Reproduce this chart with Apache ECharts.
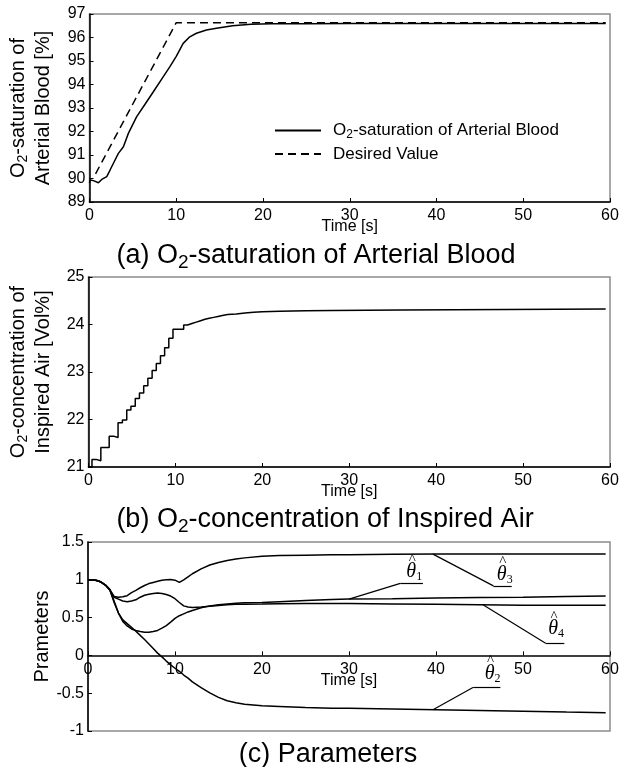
<!DOCTYPE html>
<html>
<head>
<meta charset="utf-8">
<script src="https://cdn.jsdelivr.net/npm/echarts@6/dist/echarts.min.js"></script>
<style>
  html, body { margin: 0; padding: 0; background: #fff; }
  #main { width: 623px; height: 767px; }
</style>
</head>
<body>
<div id="main"></div>
<script>
// (a) O2-saturation of arterial blood [%]
var satTime = [0, 0.07, 0.45, 1.03, 1.41, 1.99, 2.37, 2.76, 3.33, 3.91, 4.48, 5.44, 6.4, 7.36, 8.3, 9.27, 10.0, 10.8, 11.56, 12.33, 13.48, 14.63, 16.5, 18.6, 21, 25, 30, 40, 50, 59.5];
var satValue = [89.8, 89.94, 89.91, 89.82, 89.96, 90.08, 90.36, 90.65, 91.07, 91.35, 91.92, 92.63, 93.16, 93.69, 94.22, 94.76, 95.2, 95.75, 96.03, 96.18, 96.32, 96.39, 96.5, 96.56, 96.58, 96.59, 96.6, 96.6, 96.6, 96.6];
var desiredTime = [0.7, 10, 59.5];
var desiredValue = [90.2, 96.63, 96.63];

// (b) O2-concentration of inspired air [Vol%]
var fio2Time = [0, 0.4, 0.87, 1.42, 2.38, 2.87, 3.4, 3.9, 4.4, 4.88, 5.38, 5.86, 6.35, 6.83, 7.32, 7.8, 8.28, 8.76, 9.24, 9.72, 10.95, 11.4, 11.9, 12.4, 12.9, 13.4, 13.9, 14.4, 14.9, 15.4, 16, 17, 18, 19, 20, 22, 25, 28, 32, 36, 42, 48, 54, 59.5];
var fio2Value = [21.0, 21.16, 21.13, 21.41, 21.65, 21.62, 21.93, 21.99, 22.20, 22.28, 22.44, 22.56, 22.71, 22.87, 23.03, 23.18, 23.34, 23.51, 23.71, 23.90, 23.99, 24.02, 24.05, 24.08, 24.11, 24.13, 24.15, 24.17, 24.19, 24.21, 24.22, 24.24, 24.26, 24.27, 24.28, 24.29, 24.295, 24.30, 24.305, 24.31, 24.315, 24.32, 24.325, 24.33];

// (c) parameter estimates
var parTime = [0, 0.5, 1, 1.5, 2, 2.5, 3, 3.5, 4, 4.5, 5, 5.5, 6, 6.5, 7, 7.5, 8, 8.5, 9, 9.5, 10, 10.5, 11, 11.5, 12, 13, 14, 15, 16, 17, 18, 20, 22, 25, 28, 30, 35, 40, 45, 50, 55, 59.5];
var theta1 = [1.0, 1.0, 0.99, 0.97, 0.93, 0.87, 0.72, 0.56, 0.45, 0.39, 0.35, 0.33, 0.315, 0.305, 0.305, 0.315, 0.33, 0.36, 0.395, 0.44, 0.49, 0.525, 0.55, 0.575, 0.595, 0.63, 0.655, 0.67, 0.68, 0.69, 0.695, 0.70, 0.71, 0.725, 0.74, 0.745, 0.75, 0.76, 0.765, 0.77, 0.78, 0.785];
var theta2 = [1.0, 1.0, 0.99, 0.97, 0.93, 0.87, 0.70, 0.56, 0.47, 0.42, 0.37, 0.32, 0.265, 0.21, 0.15, 0.09, 0.03, -0.02, -0.075, -0.125, -0.17, -0.21, -0.26, -0.30, -0.35, -0.425, -0.495, -0.555, -0.60, -0.625, -0.645, -0.665, -0.675, -0.69, -0.70, -0.70, -0.71, -0.72, -0.73, -0.74, -0.75, -0.757];
var theta3 = [1.0, 1.0, 0.99, 0.97, 0.93, 0.87, 0.78, 0.77, 0.775, 0.79, 0.83, 0.86, 0.895, 0.925, 0.95, 0.965, 0.98, 0.995, 1.0, 1.005, 0.995, 0.965, 1.0, 1.04, 1.08, 1.145, 1.195, 1.23, 1.255, 1.275, 1.29, 1.31, 1.32, 1.325, 1.33, 1.333, 1.337, 1.34, 1.34, 1.34, 1.34, 1.34];
var theta4 = [1.0, 1.0, 0.99, 0.97, 0.93, 0.87, 0.77, 0.745, 0.72, 0.71, 0.72, 0.735, 0.77, 0.795, 0.81, 0.82, 0.825, 0.82, 0.805, 0.785, 0.75, 0.70, 0.655, 0.64, 0.635, 0.64, 0.65, 0.66, 0.67, 0.675, 0.678, 0.68, 0.683, 0.685, 0.685, 0.685, 0.68, 0.675, 0.67, 0.665, 0.664, 0.663];

// axis ranges [min, max, interval]
var timeAxis = [0, 60, 10];
var satAxis = [89, 97, 1];
var fio2Axis = [21, 25, 1];
var parAxis = [-1, 1.5, 0.5];

var FONT = 'Liberation Sans';
var SERIF = 'Liberation Serif';

function pairs(xs, ys) {
  return xs.map(function (x, i) { return [x, ys[i]]; });
}

var subRich = {
  n: { fontFamily: FONT, fontSize: 20, lineHeight: 25, fontWeight: 'normal', color: '#000' },
  s: { fontFamily: FONT, fontSize: 14, lineHeight: 14, fontWeight: 'normal', verticalAlign: 'bottom', color: '#000' }
};
var capRich = {
  n: { fontFamily: FONT, fontSize: 27, lineHeight: 32, fontWeight: 'normal', color: '#000' },
  s: { fontFamily: FONT, fontSize: 19, lineHeight: 19, fontWeight: 'normal', verticalAlign: 'bottom', color: '#000' }
};
var thetaRich = {
  t: { fontFamily: SERIF, fontStyle: 'italic', fontSize: 20, lineHeight: 22, color: '#000' },
  s: { fontFamily: SERIF, fontSize: 12, lineHeight: 12, verticalAlign: 'bottom', color: '#000' },
  h: { fontFamily: SERIF, fontSize: 15, color: '#000' }
};

function xAxisFor(gridIndex, offset) {
  return {
    type: 'value', gridIndex: gridIndex, z: 3, offset: offset,
    min: timeAxis[0], max: timeAxis[1], interval: timeAxis[2],
    name: 'Time [s]', nameLocation: 'middle', nameGap: 17, nameMoveOverlap: false,
    nameTextStyle: { fontFamily: FONT, fontSize: 16, color: '#000' },
    axisLine: { onZero: false, lineStyle: { color: '#000', width: 1.5 } },
    axisTick: { inside: true, length: 4, lineStyle: { color: '#000' } },
    axisLabel: { margin: 6, fontFamily: FONT, fontSize: 16, color: '#000' },
    splitLine: { show: false }
  };
}

function yAxisFor(gridIndex, range, name, gap) {
  return {
    type: 'value', gridIndex: gridIndex, z: 3,
    min: range[0], max: range[1], interval: range[2],
    name: name, nameLocation: 'middle', nameGap: gap, nameMoveOverlap: false,
    nameTextStyle: { rich: subRich },
    axisLine: { onZero: false, lineStyle: { color: '#000', width: 1.5 } },
    axisTick: { inside: true, length: 4, lineStyle: { color: '#000' } },
    axisLabel: { margin: 4, fontFamily: FONT, fontSize: 16, color: '#000' },
    splitLine: { show: false }
  };
}

// leader line from a curve to an underlined theta-hat label
function leader(points, label, index) {
  var segs = [];
  for (var i = 0; i < points.length - 1; i++) {
    segs.push([{ coord: points[i] }, { coord: points[i + 1] }]);
  }
  return {
    markLine: {
      silent: true, symbol: ['none', 'none'], animation: false,
      label: { show: false },
      lineStyle: { color: '#000', width: 1.2, type: 'solid' },
      data: segs
    },
    markPoint: {
      silent: true, animation: false, symbol: 'circle', symbolSize: 1,
      itemStyle: { color: 'rgba(0,0,0,0)' },
      label: { show: true, position: 'inside', rich: thetaRich },
      data: [
        { coord: label, label: { formatter: '{t|θ}{s|' + index + '}' } },
        { coord: label, label: { formatter: '{h|^}', offset: [-2, -12] } }
      ]
    }
  };
}

function lineSeries(name, xi, data, extra) {
  var s = {
    name: name, type: 'line', xAxisIndex: xi, yAxisIndex: xi,
    data: data, symbol: 'none', showSymbol: false,
    lineStyle: { color: '#000', width: 1.5 },
    itemStyle: { color: '#000' }
  };
  for (var k in extra) s[k] = extra[k];
  return s;
}

var l1 = leader([[30, 0.745], [35.9, 0.953], [38.5, 0.953]], [37.5, 1.1], 1);
var l2 = leader([[39.65, -0.72], [44.3, -0.42], [47.4, -0.42]], [46.5, -0.24], 2);
var l3 = leader([[39.65, 1.34], [46.6, 0.92], [48.7, 0.92]], [47.9, 1.07], 3);
var l4 = leader([[45.4, 0.67], [52.6, 0.16], [54.75, 0.16]], [53.8, 0.35], 4);

var frame = { show: true, borderColor: '#8c8c8c', borderWidth: 1.5, backgroundColor: '#fff' };
var zeroOffset = -189 * (0 - parAxis[0]) / (parAxis[1] - parAxis[0]);

var option = {
  animation: false,
  backgroundColor: '#fff',
  title: [
    { text: '{n|(a) O}{s|2}{n|-saturation of Arterial Blood}', left: 316, top: 240, textAlign: 'center', padding: 0, textStyle: { rich: capRich } },
    { text: '{n|(b) O}{s|2}{n|-concentration of Inspired Air}', left: 325, top: 504, textAlign: 'center', padding: 0, textStyle: { rich: capRich } },
    { text: '{n|(c) Parameters}', left: 328, top: 739, textAlign: 'center', padding: 0, textStyle: { rich: capRich } }
  ],
  legend: {
    orient: 'vertical', left: 274, top: 122, padding: 0,
    itemWidth: 46, itemHeight: 14, itemGap: 5,
    itemStyle: { color: 'rgba(0,0,0,0)', borderWidth: 0 },
    data: ['sat', 'desired'],
    formatter: function (name) {
      return name === 'sat' ? '{n|O}{s|2}{n|-saturation of Arterial Blood}' : '{n|Desired Value}';
    },
    textStyle: {
      padding: [0, 0, 0, 7],
      rich: {
        n: { fontFamily: FONT, fontSize: 17, lineHeight: 20, color: '#000' },
        s: { fontFamily: FONT, fontSize: 12, lineHeight: 12, verticalAlign: 'bottom', color: '#000' }
      }
    }
  },
  grid: [
    Object.assign({ left: 88, top: 14, width: 522, height: 188 }, frame),
    Object.assign({ left: 88, top: 277, width: 522, height: 190 }, frame),
    Object.assign({ left: 88, top: 542, width: 522, height: 189 }, frame)
  ],
  xAxis: [xAxisFor(0, 0), xAxisFor(1, 0), xAxisFor(2, zeroOffset)],
  yAxis: [
    yAxisFor(0, satAxis, '{n|O}{s|2}{n|-saturation of}\n{n|Arterial Blood [%]}', 34),
    yAxisFor(1, fio2Axis, '{n|O}{s|2}{n|-concentration of}\n{n|Inspired Air [Vol%]}', 33),
    yAxisFor(2, parAxis, '{n|Prameters}', 33)
  ],
  series: [
    lineSeries('sat', 0, pairs(satTime, satValue), {}),
    lineSeries('desired', 0, pairs(desiredTime, desiredValue), { lineStyle: { color: '#000', width: 1.5, type: [8, 5] } }),
    lineSeries('fio2', 1, pairs(fio2Time, fio2Value), { step: 'end' }),
    lineSeries('theta1', 2, pairs(parTime, theta1), l1),
    lineSeries('theta2', 2, pairs(parTime, theta2), l2),
    lineSeries('theta3', 2, pairs(parTime, theta3), l3),
    lineSeries('theta4', 2, pairs(parTime, theta4), l4)
  ]
};

var chart = echarts.init(document.getElementById('main'));
chart.setOption(option);
</script>
</body>
</html>
